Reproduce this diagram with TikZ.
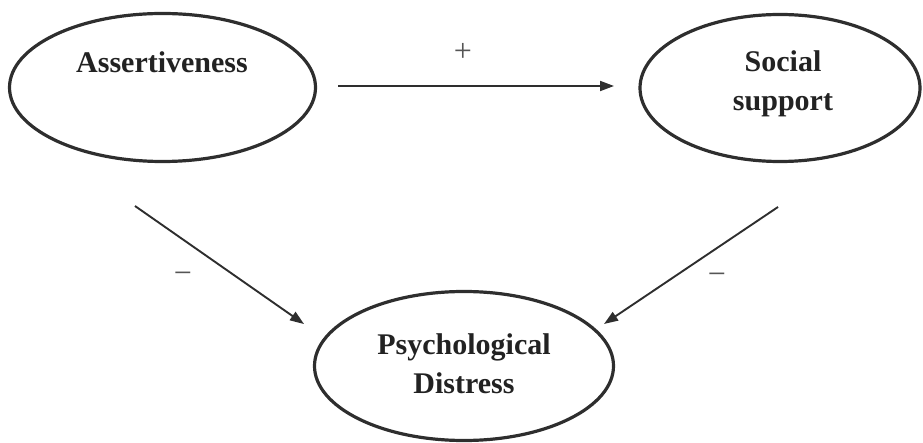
\documentclass[tikz,border=0pt]{standalone}
\usepackage{fontspec}
\setmainfont{Liberation Serif}
\usetikzlibrary{shapes.geometric,arrows.meta}
\definecolor{ink}{HTML}{2E2E2E}
\definecolor{txt}{HTML}{222222}
\definecolor{sign}{HTML}{555555}
\tikzset{
  latent/.style={ellipse, draw=ink, line width=3.2pt, inner sep=0pt},
  lbl/.style={text=txt, font=\fontsize{30}{39}\selectfont\bfseries, align=center, inner sep=0pt},
  sgn/.style={text=sign, font=\fontsize{32}{36}\selectfont, inner sep=0pt},
  path/.style={draw=ink, line width=1.9pt, -{Triangle[length=14pt,width=10pt]}}
}
\begin{document}
\begin{tikzpicture}[x=1pt,y=-1pt]
\useasboundingbox (0,0) rectangle (923,443);
% ellipses
\node[latent, minimum width=306pt, minimum height=148pt] (A) at (162.5,87.5) {};
\node[latent, minimum width=280pt, minimum height=147pt] (S) at (780,88) {};
\node[latent, minimum width=299pt, minimum height=149pt] (P) at (464,366) {};
% labels
\node[lbl, anchor=base] (At) at (162,73) {Assertiveness};
\node[lbl] (St) at (783,84) {Social\\support};
\node[lbl] (Pt) at (464,364) {Psychological\\Distress};
% connector end points
\coordinate (a1) at (338,86);
\coordinate (a2) at (614,86);
\coordinate (b1) at (135,206);
\coordinate (b2) at (304,324);
\coordinate (c1) at (778,207);
\coordinate (c2) at (604,324);
\draw[path] (a1) -- (a2);
\draw[path] (b1) -- (b2);
\draw[path] (c1) -- (c2);
% signs
\node[sgn] (plus) at (463,52) {+};
\node[sgn] (m1) at (183,278) {−};
\node[sgn] (m2) at (717,279) {−};
\end{tikzpicture}
\end{document}
